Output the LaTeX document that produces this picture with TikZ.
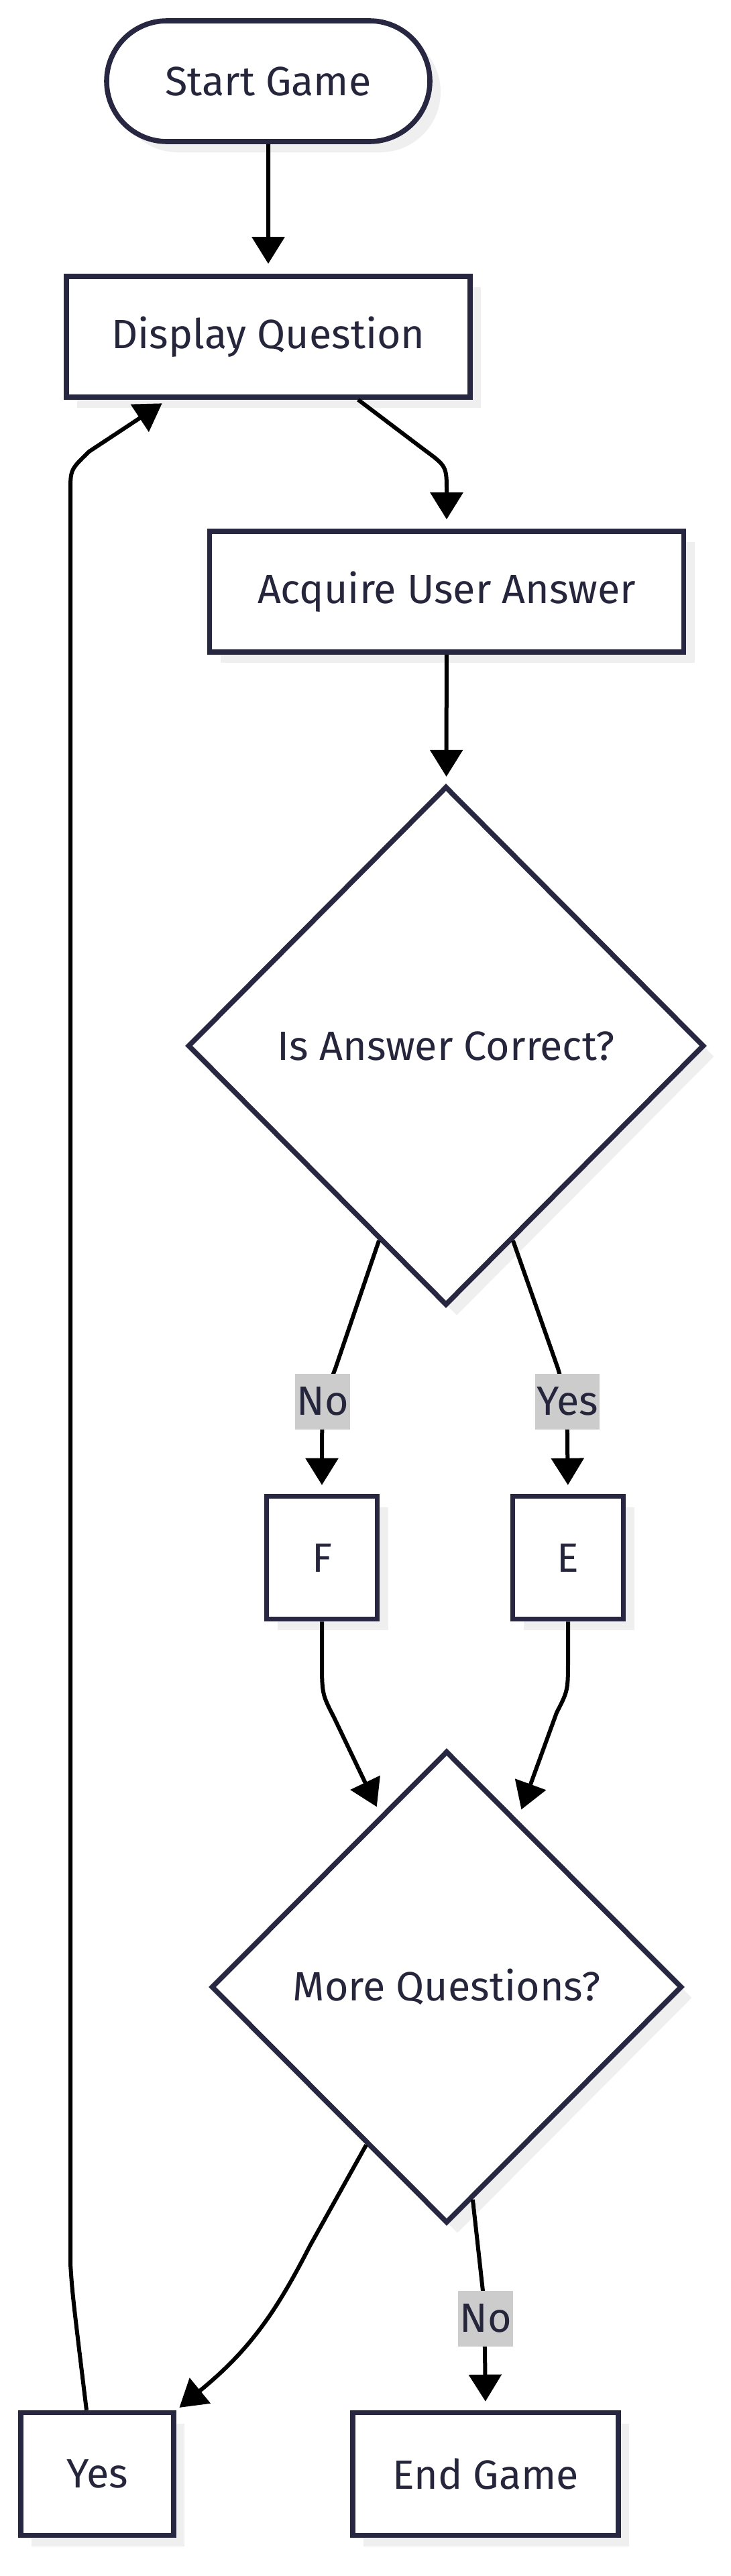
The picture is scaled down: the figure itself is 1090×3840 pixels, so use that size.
\documentclass[tikz,border=0pt]{standalone}
\usepackage{fontspec}
\setmainfont{Fira Sans}
\usetikzlibrary{shapes.geometric,shapes.misc,arrows.meta,shadows,calc}
\definecolor{bord}{HTML}{272741}
\definecolor{txt}{HTML}{25253B}
\definecolor{shd}{HTML}{EFEFEF}
\definecolor{lblbg}{HTML}{CCCCCC}
\begin{document}
\begin{tikzpicture}[x=0.5pt,y=-0.5pt,
 base/.style={draw=bord, line width=3.8pt, fill=white, text=txt,
   font=\fontsize{30.5pt}{36pt}\selectfont, inner sep=0pt,
   general shadow={fill=shd, shadow xshift=8pt, shadow yshift=-8pt}},
 box/.style={base, rectangle},
 term/.style={base, rounded rectangle},
 dec/.style={base, diamond},
 conn/.style={line width=3pt, -{Triangle[width=24pt,length=20pt]}},
 lbl/.style={fill=lblbg, text=txt, font=\fontsize{30.5pt}{36pt}\selectfont,
   inner xsep=1pt, inner ysep=0pt, minimum height=41.5pt}]
\useasboundingbox (0,0) rectangle (1090,3840);
\fill[white] (0,0) rectangle (1090,3840);

\node[term, minimum width=241pt, minimum height=90pt] (start) at (400,121) {Start Game};
\node[box, minimum width=301pt, minimum height=90pt] (disp) at (400,502) {Display Question};
\node[box, minimum width=353.5pt, minimum height=90pt] (acq) at (666,882) {Acquire User Answer};
\node[dec, minimum width=385pt, minimum height=387pt] (dec1) at (665,1559) {Is Answer Correct?};
\node[box, minimum width=82.5pt, minimum height=91.5pt] (F) at (480,2322) {F};
\node[box, minimum width=82.5pt, minimum height=91.5pt] (E) at (847,2322) {E};
\node[dec, minimum width=351pt, minimum height=352pt] (dec2) at (666,2962) {More Questions?};
\node[box, minimum width=114pt, minimum height=91.5pt] (yesn) at (145,3688) {Yes};
\node[box, minimum width=198pt, minimum height=91.5pt] (endn) at (724,3688) {End Game};

% connectors
\draw[conn, shorten >=7.5pt] (start) -- (disp);
\draw[conn, shorten >=7pt] (disp.-35.3) -- (632,670) .. controls (666,695) .. (666,733) -- (acq.north);
\draw[conn, shorten >=5pt] ($(yesn.north)+(-16,0)$) .. controls (108,3420) .. (105,3375)
   -- (105,733) .. controls (105,700) .. (133,673) -- ($(disp.south)+(-150,0)$);
\draw[conn, shorten >=5.5pt] (acq) -- (dec1);
\draw[conn, shorten >=6.5pt] (dec1.-109.3) -- (500,2040) .. controls (481,2090) .. (480,2150) -- (F.north);
\draw[conn, shorten >=6.5pt] (dec1.-71.3) -- (832,2040) .. controls (846,2090) .. (846,2150) -- (E.north);
\node[lbl] (lno1) at (481,2089) {No};
\node[lbl] (lyes1) at (846,2089) {Yes};
\draw[conn, shorten >=6.5pt] (F.south) -- (480,2472) .. controls (480,2525) .. (498,2560) -- (dec2.111.9);
\draw[conn, shorten >=8pt] (E.south) -- (847,2472) .. controls (847,2520) .. (830,2553) -- (dec2.67.95);
\draw[conn, shorten >=3pt] (dec2.-117.2) -- (462,3348) .. controls (410,3450) and (370,3505) .. (yesn.north east);
\draw[conn, shorten >=6.5pt] (dec2.-83.2) -- (720,3415) -- (723,3500) -- (endn.north);
\node[lbl] (lno2) at (724,3456) {No};
\end{tikzpicture}
\end{document}
